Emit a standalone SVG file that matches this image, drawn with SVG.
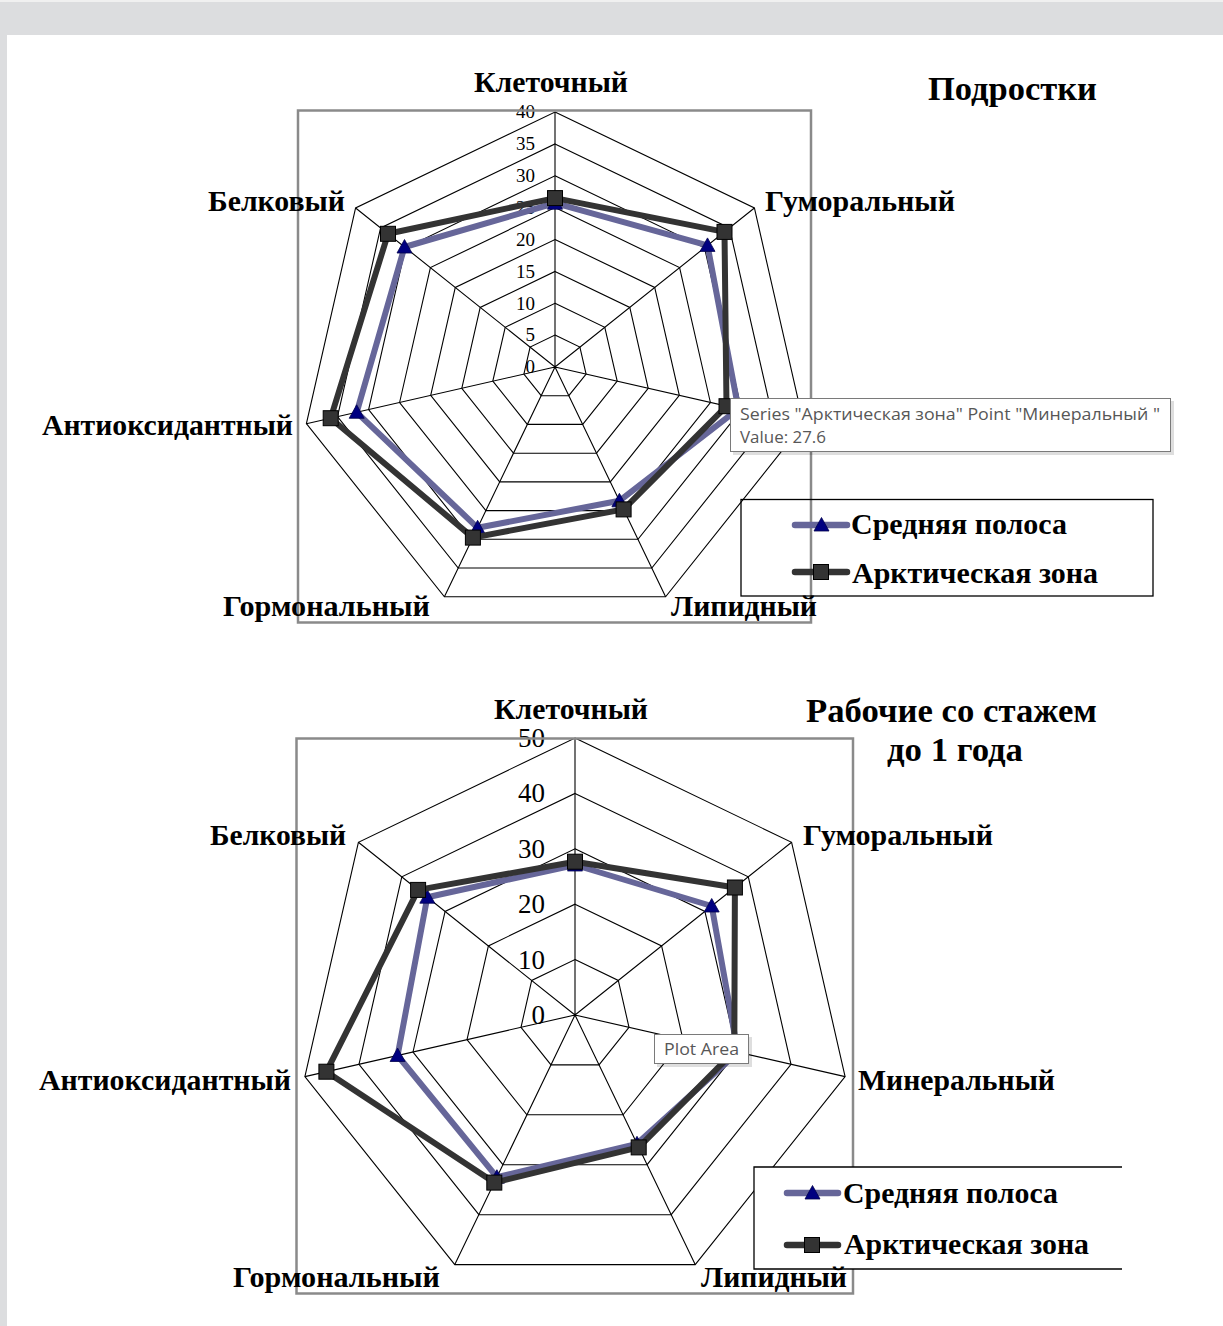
<svg xmlns="http://www.w3.org/2000/svg" xmlns:xlink="http://www.w3.org/1999/xlink" width="1223" height="1326" viewBox="0 0 1223 1326">
<style>
.grid{fill:none;stroke:#000;stroke-width:1.1}
.frame{fill:none;stroke:#8a8a8a;stroke-width:2.5}
.lbl{font-family:"Liberation Serif","Times New Roman",serif;font-weight:bold;font-size:28.5px;fill:#000}
.ttl{font-family:"Liberation Serif","Times New Roman",serif;font-weight:bold;font-size:34px;fill:#000}
.t1{font-family:"Liberation Serif","Times New Roman",serif;font-size:19px;fill:#000;text-anchor:end}
.t2{font-family:"Liberation Serif","Times New Roman",serif;font-size:27px;fill:#000;text-anchor:end}
.s1{fill:none;stroke:#666699;stroke-width:6;stroke-linejoin:round}
.s2{fill:none;stroke:#333;stroke-width:6;stroke-linejoin:round}
.l1{fill:none;stroke:#666699;stroke-width:6.5;stroke-linecap:round}
.l2{fill:none;stroke:#333;stroke-width:6.5;stroke-linecap:round}
.leg{fill:none;stroke:#000;stroke-width:1.3}
.tip{fill:#fff;stroke:#7a7a7a;stroke-width:1}
.tipsh{fill:#000;opacity:0.13}
.tipt{font-family:"Open Sans","Noto Sans",sans-serif;font-size:16.5px;fill:#575757}
</style>
<defs>
<path id="tri" d="M0,-7.5 L7.5,6 L-7.5,6 Z" fill="#000080" stroke="#00004d" stroke-width="0.8"/>
<rect id="sq" x="-7.5" y="-7.5" width="15" height="15" fill="#333" stroke="#000" stroke-width="1"/>
</defs>

<g id="background">
<rect x="0" y="0" width="1223" height="1326" fill="#fff"/>
<rect x="0" y="0" width="1223" height="35" fill="#dcdddf"/>
<rect x="0" y="0" width="1223" height="2" fill="#f0f0f0"/>
<rect x="0" y="35" width="7" height="1291" fill="#dcdddf"/>
</g>

<g id="chart1">
<g id="chart1-grid" class="grid">
<polygon points="555,335.1 579.9,347.1 586.1,374.1 568.8,395.7 541.2,395.7 523.9,374.1 530.1,347.1"/>
<polygon points="555,303.25 604.8,327.3 617.2,381.2 582.7,424.4 527.3,424.4 492.8,381.2 505.2,327.3"/>
<polygon points="555,271.4 629.8,307.4 648.2,388.3 596.5,453.2 513.5,453.2 461.8,388.3 480.2,307.4"/>
<polygon points="555,239.5 654.7,287.5 679.3,395.4 610.3,481.9 499.7,481.9 430.7,395.4 455.3,287.5"/>
<polygon points="555,207.6 679.6,267.6 710.4,402.5 624.2,510.6 485.9,510.6 399.6,402.5 430.4,267.6"/>
<polygon points="555,175.75 704.5,247.8 741.5,409.6 638,539.3 472,539.3 368.6,409.6 405.5,247.8"/>
<polygon points="555,143.9 729.4,227.9 772.5,416.7 651.8,568 458.2,568 337.5,416.7 380.6,227.9"/>
<polygon points="555,112 754.4,208 803.6,423.7 665.6,596.75 444.4,596.75 306.4,423.7 355.6,208"/>
<path d="M555,367 L555,112 M555,367 L754.4,208 M555,367 L803.6,423.7 M555,367 L665.6,596.75 M555,367 L444.4,596.75 M555,367 L306.4,423.7 M555,367 L355.6,208"/>
</g>
<g id="chart1-ticks">
<text class="t1" x="535" y="373.3">0</text>
<text class="t1" x="535" y="341.4">5</text>
<text class="t1" x="535" y="309.6">10</text>
<text class="t1" x="535" y="277.7">15</text>
<text class="t1" x="535" y="245.8">20</text>
<text class="t1" x="535" y="213.9">25</text>
<text class="t1" x="535" y="182">30</text>
<text class="t1" x="535" y="150.2">35</text>
<text class="t1" x="535" y="118.3">40</text>
</g>
<g id="chart1-series">
<polygon class="s1" points="555,203.2 707.5,245.4 738.4,408.9 619.4,500.8 477.6,527.8 356.7,412.3 404.5,247"/>
<use href="#tri" x="555" y="203.2"/><use href="#tri" x="707.5" y="245.4"/><use href="#tri" x="738.4" y="408.9"/><use href="#tri" x="619.4" y="500.8"/><use href="#tri" x="477.6" y="527.8"/><use href="#tri" x="356.7" y="412.3"/><use href="#tri" x="404.5" y="247"/>
<polygon class="s2" points="555,198.1 724.5,231.9 726.5,406.2 623.6,509.4 472.9,537.6 330.7,418.2 388,233.8"/>
<use href="#sq" x="555" y="198.1"/><use href="#sq" x="724.5" y="231.9"/><use href="#sq" x="726.5" y="406.2"/><use href="#sq" x="623.6" y="509.4"/><use href="#sq" x="472.9" y="537.6"/><use href="#sq" x="330.7" y="418.2"/><use href="#sq" x="388" y="233.8"/>
</g>
<rect id="chart1-frame" class="frame" x="298" y="110.5" width="513" height="512"/>
<g id="chart1-legend">
<rect class="leg" x="741" y="499.5" width="412" height="96.5"/>
<path class="l1" d="M795,525 H847"/>
<use href="#tri" x="821.5" y="525"/>
<text class="lbl" x="851" y="534" textLength="216" lengthAdjust="spacingAndGlyphs">Средняя полоса</text>
<path class="l2" d="M795,572 H847"/>
<use href="#sq" x="821" y="572"/>
<text class="lbl" x="852" y="583" textLength="246" lengthAdjust="spacingAndGlyphs">Арктическая зона</text>
</g>
<g id="chart1-labels">
<text class="ttl" x="928" y="100" textLength="169" lengthAdjust="spacingAndGlyphs">Подростки</text>
<text class="lbl" x="474" y="92" textLength="154" lengthAdjust="spacingAndGlyphs">Клеточный</text>
<text class="lbl" x="765" y="211" textLength="190" lengthAdjust="spacingAndGlyphs">Гуморальный</text>
<text class="lbl" x="208" y="211" textLength="137" lengthAdjust="spacingAndGlyphs">Белковый</text>
<text class="lbl" x="42" y="435" textLength="251" lengthAdjust="spacingAndGlyphs">Антиоксидантный</text>
<text class="lbl" x="223" y="616" textLength="207" lengthAdjust="spacingAndGlyphs">Гормональный</text>
<text class="lbl" x="671" y="616" textLength="146" lengthAdjust="spacingAndGlyphs">Липидный</text>
</g>
<g id="chart1-tooltip">
<rect class="tipsh" x="733" y="401" width="441" height="54"/>
<rect class="tip" x="730.5" y="398.5" width="440" height="53"/>
<text class="tipt" x="740" y="419.5" textLength="420" lengthAdjust="spacingAndGlyphs">Series "Арктическая зона" Point "Минеральный "</text>
<text class="tipt" x="740" y="443" textLength="86" lengthAdjust="spacingAndGlyphs">Value: 27.6</text>
</g>
</g>

<g id="chart2">
<g id="chart2-grid" class="grid">
<polygon points="575,959.6 618.3,980.5 629,1027.3 599,1064.9 551,1064.9 521,1027.3 531.7,980.5"/>
<polygon points="575,904.2 661.6,945.9 683,1039.7 623.1,1114.8 526.9,1114.8 467,1039.7 488.4,945.9"/>
<polygon points="575,848.8 704.9,911.4 737,1052 647.1,1164.7 502.9,1164.7 413,1052 445.1,911.4"/>
<polygon points="575,793.4 748.3,876.8 791,1064.3 671.2,1214.7 478.9,1214.7 359,1064.3 401.8,876.8"/>
<polygon points="575,738 791.6,842.3 845.1,1076.6 695.2,1264.6 454.8,1264.6 304.9,1076.6 358.4,842.3"/>
<path d="M575,1015 L575,738 M575,1015 L791.6,842.3 M575,1015 L845.1,1076.6 M575,1015 L695.2,1264.6 M575,1015 L454.8,1264.6 M575,1015 L304.9,1076.6 M575,1015 L358.4,842.3"/>
</g>
<g id="chart2-ticks">
<text class="t2" x="545" y="1024">0</text>
<text class="t2" x="545" y="968.6">10</text>
<text class="t2" x="545" y="913.2">20</text>
<text class="t2" x="545" y="857.8">30</text>
<text class="t2" x="545" y="802.4">40</text>
<text class="t2" x="545" y="747">50</text>
</g>
<g id="chart2-series">
<polygon class="s1" points="575,865 711.7,906 737.8,1052.2 637,1143.8 496.9,1177.2 397.6,1055.5 427.3,897.2"/>
<use href="#tri" x="575" y="865"/><use href="#tri" x="711.7" y="906"/><use href="#tri" x="737.8" y="1052.2"/><use href="#tri" x="637" y="1143.8"/><use href="#tri" x="496.9" y="1177.2"/><use href="#tri" x="397.6" y="1055.5"/><use href="#tri" x="427.3" y="897.2"/>
<polygon class="s2" points="575,861.7 734.9,887.5 734.3,1051.4 638.7,1147.4 494.3,1182.6 326.4,1071.7 418.1,889.9"/>
<use href="#sq" x="575" y="861.7"/><use href="#sq" x="734.9" y="887.5"/><use href="#sq" x="734.3" y="1051.4"/><use href="#sq" x="638.7" y="1147.4"/><use href="#sq" x="494.3" y="1182.6"/><use href="#sq" x="326.4" y="1071.7"/><use href="#sq" x="418.1" y="889.9"/>
</g>
<rect id="chart2-frame" class="frame" x="296.5" y="738.5" width="556.5" height="555"/>
<g id="chart2-legend">
<rect x="754" y="1167" width="368" height="102" fill="#fff"/>
<path class="leg" d="M1122,1167 H754 V1269 H1122"/>
<path class="l1" d="M787,1193 H838"/>
<use href="#tri" x="812.5" y="1193"/>
<text class="lbl" x="843" y="1203" textLength="215" lengthAdjust="spacingAndGlyphs">Средняя полоса</text>
<path class="l2" d="M787,1245 H838"/>
<use href="#sq" x="812" y="1245"/>
<text class="lbl" x="844" y="1254" textLength="245" lengthAdjust="spacingAndGlyphs">Арктическая зона</text>
</g>
<g id="chart2-labels">
<text class="ttl" x="806" y="722" textLength="291" lengthAdjust="spacingAndGlyphs">Рабочие со стажем</text>
<text class="ttl" x="887" y="761" textLength="136" lengthAdjust="spacingAndGlyphs">до 1 года</text>
<text class="lbl" x="494" y="719" textLength="154" lengthAdjust="spacingAndGlyphs">Клеточный</text>
<text class="lbl" x="803" y="845" textLength="190" lengthAdjust="spacingAndGlyphs">Гуморальный</text>
<text class="lbl" x="210" y="845" textLength="136" lengthAdjust="spacingAndGlyphs">Белковый</text>
<text class="lbl" x="858" y="1090" textLength="197" lengthAdjust="spacingAndGlyphs">Минеральный</text>
<text class="lbl" x="39" y="1090" textLength="252" lengthAdjust="spacingAndGlyphs">Антиоксидантный</text>
<text class="lbl" x="233" y="1287" textLength="207" lengthAdjust="spacingAndGlyphs">Гормональный</text>
<text class="lbl" x="701" y="1287" textLength="146" lengthAdjust="spacingAndGlyphs">Липидный</text>
</g>
<g id="chart2-tooltip">
<rect class="tipsh" x="657" y="1037" width="95" height="30"/>
<rect class="tip" x="654.5" y="1034.5" width="94" height="29"/>
<text class="tipt" x="664" y="1055" textLength="75" lengthAdjust="spacingAndGlyphs">Plot Area</text>
</g>
</g>
</svg>
